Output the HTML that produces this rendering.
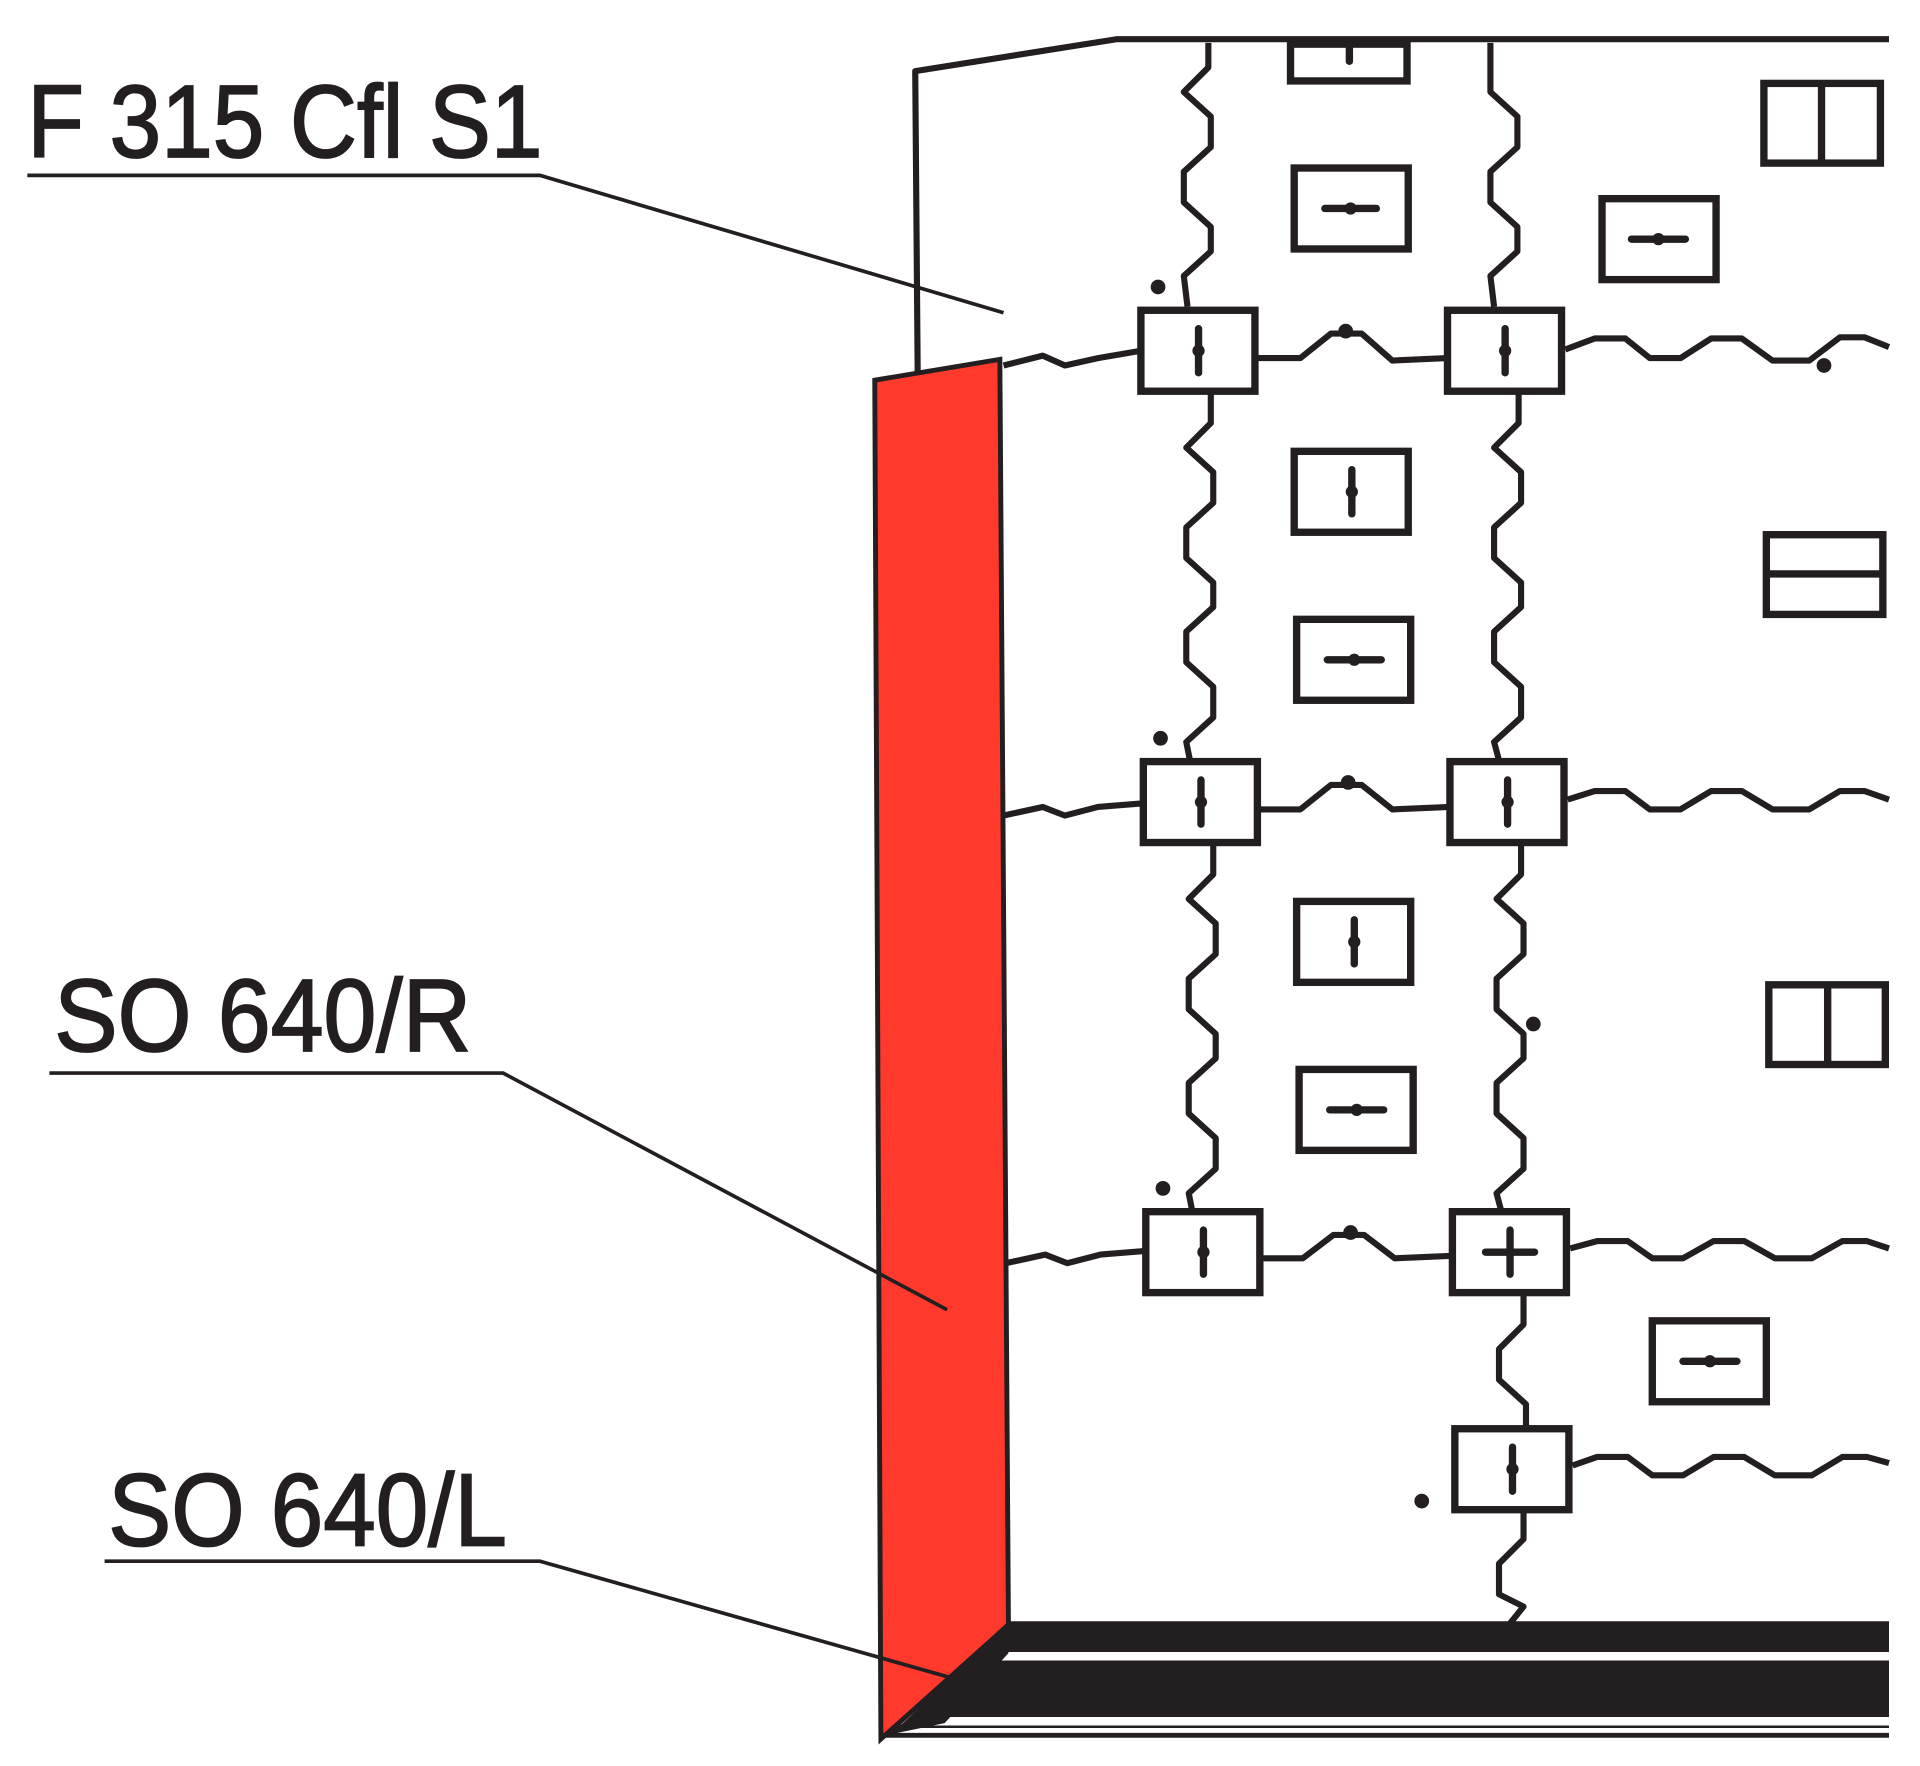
<!DOCTYPE html>
<html><head><meta charset="utf-8"><style>
html,body{margin:0;padding:0;background:#fff}
svg{display:block}
</style></head><body>
<svg width="1920" height="1766" viewBox="0 0 1565 1440" xmlns="http://www.w3.org/2000/svg">
<rect width="1565" height="1440" fill="#fff"/>
<g font-family="Liberation Sans, sans-serif" fill="#231f20" stroke="#231f20" stroke-width="1.5" font-size="84">
<text x="22" y="128" textLength="420" lengthAdjust="spacingAndGlyphs">F 315 Cfl S1</text>
<text x="44" y="857" textLength="340" lengthAdjust="spacingAndGlyphs">SO 640/R</text>
<text x="88" y="1260" textLength="325" lengthAdjust="spacingAndGlyphs">SO 640/L</text>
</g>
<g stroke="#231f20" stroke-width="5" fill="none" stroke-linejoin="round">
<polyline points="748,305 746,58 910,32 1540,32"/>
<polyline points="985,35 985,55 965,75 987,95 987,120 965,140 965,165 987,185 987,205 965,225 968,250"/>
<polyline points="1215,35 1215,75 1237,95 1237,120 1215,140 1215,165 1237,185 1237,205 1215,225 1218,250"/>
<polyline points="987,320 987,345 967,365 989,385 989,410 967,430 967,455 989,475 989,495 967,515 967,540 989,560 989,585 967,605 970,620"/>
<polyline points="1238,320 1238,345 1218,365 1240,385 1240,410 1218,430 1218,455 1240,475 1240,495 1218,515 1218,540 1240,560 1240,585 1218,605 1222,620"/>
<polyline points="989,688 989,713 969,733 991,753 991,778 969,798 969,823 991,843 991,863 969,883 969,908 991,928 991,953 969,973 972,988"/>
<polyline points="1240,688 1240,713 1220,733 1242,753 1242,778 1220,798 1220,823 1242,843 1242,863 1220,883 1220,908 1242,928 1242,953 1220,973 1224,988"/>
<polyline points="1242,1055 1242,1080 1222,1100 1222,1125 1244,1145 1244,1165"/>
<polyline points="1242,1230 1242,1255 1222,1275 1222,1300 1242,1310 1226,1330"/>
<polyline points="818,298 850,290 868,298 895,292 930,286"/>
<polyline points="1025,292 1060,292 1085,272 1110,272 1135,294 1180,292"/>
<polyline points="1276,285 1300,276 1325,276 1345,292 1370,292 1395,276 1420,276 1445,294 1475,294 1500,275 1520,275 1540,283"/>
<polyline points="818,665 850,658 868,665 895,658 932,655"/>
<polyline points="1027,660 1060,660 1085,640 1110,640 1135,660 1182,658"/>
<polyline points="1278,652 1300,645 1325,645 1345,660 1370,660 1395,645 1420,645 1445,660 1475,660 1500,645 1520,645 1540,652"/>
<polyline points="820,1030 852,1023 870,1030 897,1023 934,1020"/>
<polyline points="1029,1026 1062,1026 1087,1007 1112,1007 1137,1026 1184,1024"/>
<polyline points="1280,1018 1302,1012 1327,1012 1347,1026 1372,1026 1397,1012 1422,1012 1447,1026 1477,1026 1502,1012 1522,1012 1540,1018"/>
<polyline points="1282,1195 1302,1188 1327,1188 1347,1203 1372,1203 1397,1188 1422,1188 1447,1203 1477,1203 1502,1188 1522,1188 1540,1193"/>
</g>
<polygon points="713,310 815,293 822,1325 718,1418" fill="#ff3a2c" stroke="#231f20" stroke-width="4"/>
<polygon points="822,1322 1540,1322 1540,1347 795,1347" fill="#231f20"/>
<polygon points="790,1354 1540,1354 1540,1400 742,1400" fill="#231f20"/>
<polygon points="822,1325 800,1345 736,1405 722,1415 770,1405 822,1348" fill="#231f20"/>
<line x1="718" y1="1415" x2="1540" y2="1415" stroke="#231f20" stroke-width="4"/>
<line x1="740" y1="1408" x2="1540" y2="1408" stroke="#231f20" stroke-width="2"/>
<g stroke="#231f20" stroke-width="3" fill="none">
<polyline points="22,143 440,143 818,255"/>
<polyline points="40,875 410,875 772,1068"/>
<polyline points="85,1273 440,1273 775,1368"/>
</g>
<g stroke="#231f20" stroke-width="6" fill="#fff">
<rect x="1052" y="36" width="95" height="30"/>
<rect x="1055" y="137" width="93" height="66"/>
<rect x="1438" y="68" width="95" height="65"/>
<rect x="1306" y="162" width="93" height="66"/>
<rect x="930" y="253" width="93" height="66"/>
<rect x="1180" y="253" width="93" height="66"/>
<rect x="1055" y="368" width="93" height="66"/>
<rect x="1440" y="436" width="95" height="65"/>
<rect x="1057" y="505" width="93" height="66"/>
<rect x="932" y="621" width="93" height="66"/>
<rect x="1182" y="621" width="93" height="66"/>
<rect x="1057" y="735" width="93" height="66"/>
<rect x="1442" y="803" width="95" height="65"/>
<rect x="1059" y="872" width="93" height="66"/>
<rect x="934" y="988" width="93" height="66"/>
<rect x="1184" y="988" width="93" height="66"/>
<rect x="1347" y="1077" width="93" height="66"/>
<rect x="1186" y="1165" width="93" height="66"/>
</g>
<g stroke="#231f20" stroke-width="6" fill="none" stroke-linecap="round">
<line x1="1100" y1="36" x2="1100" y2="50"/>
<line x1="1080" y1="170" x2="1122" y2="170"/>
<line x1="1485" y1="70" x2="1485" y2="131"/>
<line x1="1330" y1="195" x2="1374" y2="195"/>
<line x1="977" y1="268" x2="977" y2="304"/>
<line x1="1227" y1="268" x2="1227" y2="304"/>
<line x1="1102" y1="383" x2="1102" y2="419"/>
<line x1="1442" y1="468" x2="1533" y2="468"/>
<line x1="1082" y1="538" x2="1126" y2="538"/>
<line x1="979" y1="636" x2="979" y2="672"/>
<line x1="1229" y1="636" x2="1229" y2="672"/>
<line x1="1104" y1="750" x2="1104" y2="786"/>
<line x1="1490" y1="805" x2="1490" y2="866"/>
<line x1="1084" y1="905" x2="1128" y2="905"/>
<line x1="981" y1="1003" x2="981" y2="1039"/>
<line x1="1231" y1="1003" x2="1231" y2="1039"/>
<line x1="1211" y1="1021" x2="1251" y2="1021"/>
<line x1="1372" y1="1110" x2="1416" y2="1110"/>
<line x1="1233" y1="1180" x2="1233" y2="1216"/>
</g>
<g fill="#231f20">
<circle cx="944" cy="234" r="6"/><circle cx="1097" cy="270" r="6"/><circle cx="1487" cy="298" r="6"/>
<circle cx="946" cy="602" r="6"/><circle cx="1099" cy="638" r="6"/><circle cx="1250" cy="835" r="6"/>
<circle cx="948" cy="969" r="6"/><circle cx="1101" cy="1005" r="6"/><circle cx="1159" cy="1224" r="6"/>
<circle cx="1101" cy="170" r="5"/><circle cx="1352" cy="195" r="5"/><circle cx="977" cy="286" r="5"/><circle cx="1227" cy="286" r="5"/>
<circle cx="1102" cy="401" r="5"/><circle cx="1104" cy="538" r="5"/><circle cx="979" cy="654" r="5"/><circle cx="1229" cy="654" r="5"/>
<circle cx="1104" cy="768" r="5"/><circle cx="1106" cy="905" r="5"/><circle cx="981" cy="1021" r="5"/><circle cx="1394" cy="1110" r="5"/><circle cx="1233" cy="1198" r="5"/>
</g>
</svg>
</body></html>
